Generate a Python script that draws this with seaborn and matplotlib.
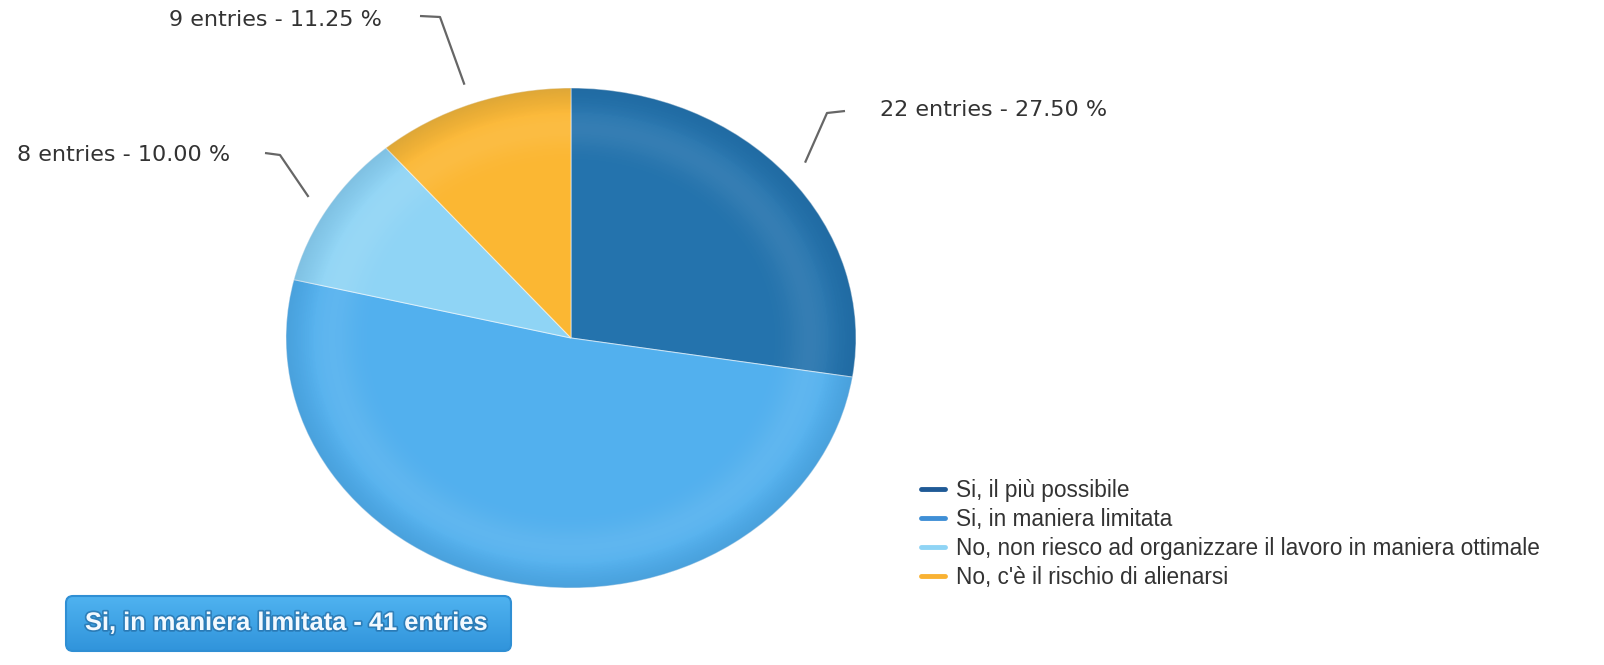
# Survey pie — "Si, in maniera limitata" highlighted
# Elliptical pie with outside labels, a legend bottom-right and a tooltip box.

import numpy as np
import matplotlib
matplotlib.use("Agg")
import matplotlib.pyplot as plt
import matplotlib.patheffects as pe
from matplotlib.lines import Line2D
from matplotlib.patches import Circle, FancyBboxPatch
import seaborn as sns

answers = [
    "Si, il più possibile",
    "Si, in maniera limitata",
    "No, non riesco ad organizzare il lavoro in maniera ottimale",
    "No, c'è il rischio di alienarsi",
]
entries = [22, 41, 8, 9]
colors = ["#2473ad", "#52b0ee", "#8fd4f5", "#fbb733"]
legend_colors = ["#1f5a96", "#3f8fd6", "#8fd4f5", "#f9b233"]
tooltip_answer = "Si, in maniera limitata"

sns.set_theme(style="white")
plt.rcParams["font.family"] = ["Liberation Sans", "DejaVu Sans"]

W, H = 1604, 665
fig = plt.figure(figsize=(W / 100, H / 100), dpi=100)
fig.patch.set_facecolor("white")

# pie ellipse bounding box in pixels
cx, cy, rx, ry = 571, 338, 285, 250
ax = fig.add_axes([(cx - rx) / W, (H - cy - ry) / H, 2 * rx / W, 2 * ry / H])
wedges, _ = ax.pie(entries, colors=sns.color_palette(colors), startangle=90, counterclock=False,
                   wedgeprops=dict(edgecolor=(1, 1, 1, 0.5), linewidth=0.8))
ax.set_aspect("auto")
ax.axis("off")

# soft "3D" shading: light band near the rim, darker rim
g = np.linspace(-1, 1, 500)
xx, yy = np.meshgrid(g, g)
rr = np.sqrt(xx ** 2 + yy ** 2)
light = np.zeros((500, 500, 4))
light[..., :3] = 1.0
light[..., 3] = 0.08 * np.exp(-((rr - 0.84) / 0.08) ** 2)
dark = np.zeros((500, 500, 4))
dark[..., :3] = [0.05, 0.2, 0.35]
dark[..., 3] = np.clip((rr - 0.9) / 0.1, 0, 1) * 0.12
for img in (light, dark):
    im = ax.imshow(img, extent=(-1, 1, -1, 1), origin="lower", zorder=3, interpolation="bilinear")
    im.set_clip_path(Circle((0, 0), 1.0, transform=ax.transData))
ax.set_xlim(-1, 1)
ax.set_ylim(-1, 1)
ax.set_aspect("auto")

# overlay axes in pixel coordinates for labels and tooltip
ov = fig.add_axes([0, 0, 1, 1], zorder=5)
ov.axis("off")
ov.patch.set_alpha(0)

total = sum(entries)
# elbow / label placement (pixels) for the labelled slices
label_layout = {
    0: ((827, 113), (845, 111), (880, 110), "left"),
    2: ((280, 155), (265, 153), (230, 155), "right"),
    3: ((440, 17), (420, 16), (382, 20), "right"),
}
for i, (elbow, end, txt, ha) in label_layout.items():
    w = wedges[i]
    mid = np.deg2rad((w.theta1 + w.theta2) / 2)
    sx = cx + rx * 1.08 * np.cos(mid)
    sy = cy - ry * 1.08 * np.sin(mid)
    ov.plot([sx, elbow[0], end[0]], [sy, elbow[1], end[1]], color="#666666", lw=1.6,
            solid_capstyle="butt")
    pct = entries[i] / total * 100
    ov.text(txt[0], txt[1], f"{entries[i]} entries - {pct:.2f} %", ha=ha, va="center",
            fontsize=16, color="#333333", family=["DejaVu Sans"])

# legend
handles = [Line2D([0], [0], color=c, lw=3.5) for c in legend_colors]
fig.legend(handles, answers, loc="upper left", bbox_to_anchor=(921 / W, 1 - 479 / H),
           frameon=False, fontsize=16.3, labelspacing=0.27, handlelength=1.05,
           handletextpad=0.5, borderpad=0, borderaxespad=0, labelcolor="#333333")

# tooltip box
bx, by, bw, bh = 66, 596, 445, 55
box = FancyBboxPatch((bx, by), bw, bh, boxstyle="round,pad=0,rounding_size=7",
                     facecolor="none", edgecolor="#2f8fd4", lw=1.5, zorder=6)
ov.add_patch(box)
grad = np.linspace(0, 1, 64)[:, None]
c_top, c_bot = np.array([0.31, 0.70, 0.94]), np.array([0.19, 0.58, 0.86])
gimg = c_top + (c_bot - c_top) * grad[..., None]
gimg = np.repeat(gimg, 2, axis=1)
gi = ov.imshow(gimg, extent=(bx, bx + bw, by + bh, by), zorder=5, aspect="auto")
gi.set_clip_path(box)
ov.set_xlim(0, W)
ov.set_ylim(H, 0)
idx = answers.index(tooltip_answer)
ov.text(bx + 19, by + 27, f"{tooltip_answer} - {entries[idx]} entries", ha="left", va="center",
        fontsize=18.3, fontweight="bold", color="#f2f9ff", zorder=7,
        path_effects=[pe.withStroke(linewidth=2.5, foreground="#1d5f94", alpha=0.55)])

fig.savefig("out.png", dpi=100)
